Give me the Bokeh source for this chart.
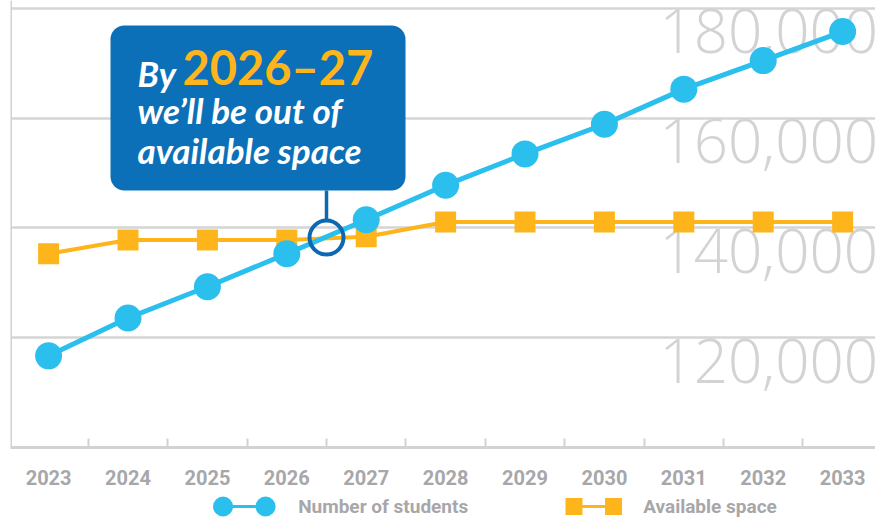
from bokeh.plotting import figure
from bokeh.models import FixedTicker, BoxAnnotation, Label, Range1d, Span
from bokeh.layouts import column
from bokeh.embed import file_html
from bokeh.resources import INLINE
from bokeh.core.properties import value

# ---------------- data ----------------
YEARS = [2023, 2024, 2025, 2026, 2027, 2028, 2029, 2030, 2031, 2032, 2033]
X_LABELS = [str(y) for y in YEARS]
STUDENTS = [116700, 123600, 129300, 135300, 141500, 147800, 153500, 158900, 165300, 170500, 175800]
SPACE = [135300, 137800, 137800, 137800, 138400, 141100, 141100, 141100, 141100, 141100, 141100]
Y_TICKS = [120000, 140000, 160000, 180000]
Y_LABELS = ["120,000", "140,000", "160,000", "180,000"]
SERIES_NAMES = ["Number of students", "Available space"]
CALLOUT_BY = "By"
CALLOUT_YEARS = "2026–27"
CALLOUT_LINE2 = "we’ll be out of"
CALLOUT_LINE3 = "available space"

# ---------------- styles ----------------
BLUE = "#2BBFEE"
ORANGE = "#FDB51B"
BOX = "#0B70B8"
RING = "#0B69B1"
GRID = "#d5d5d5"
AXIS = "#d2d2d2"
LABEL_GRAY = "#a7a7aa"
TICK_GRAY = "#d3d3d5"

# frame geometry (page pixels)
FL, FT, FW, FH = 10, 0, 865, 447
X_START = 2022.52
X_END = X_START + FW / 79.4
Y_START = 100000
Y_END = 180000 + 8 * 20000 / 110


def px_to_x(px):
    return X_START + (px - FL) / FW * (X_END - X_START)


def px_to_y(py):
    return Y_END - (py - FT) / FH * (Y_END - Y_START)


p = figure(frame_width=FW, frame_height=FH,
           x_range=Range1d(X_START, X_END), y_range=Range1d(Y_START, Y_END),
           output_backend="svg", toolbar_location=None, tools="",
           y_axis_location=None, min_border_left=FL, min_border_right=0,
           min_border_top=FT, min_border_bottom=0)
p.outline_line_color = None
p.background_fill_color = "white"
p.border_fill_color = "white"

# grid
p.xgrid.visible = False
p.ygrid.ticker = FixedTicker(ticks=Y_TICKS)
p.ygrid.grid_line_color = GRID
p.ygrid.grid_line_width = 2.5

# x axis
p.xaxis.ticker = FixedTicker(ticks=YEARS, minor_ticks=[y + 0.5 for y in YEARS[:-1]])
p.xaxis.major_label_overrides = {y: l for y, l in zip(YEARS, X_LABELS)}
p.xaxis.axis_line_color = AXIS
p.xaxis.axis_line_width = 3
p.xaxis.major_tick_line_color = None
p.xaxis.minor_tick_line_color = AXIS
p.xaxis.minor_tick_line_width = 2
p.xaxis.minor_tick_in = 9
p.xaxis.minor_tick_out = 0
p.xaxis.major_tick_in = 0
p.xaxis.major_tick_out = 0
p.xaxis.major_label_standoff = 22
p.xaxis.major_label_text_font = "Roboto"
p.xaxis.major_label_text_font_style = "bold"
p.xaxis.major_label_text_font_size = "20px"
p.xaxis.major_label_text_color = LABEL_GRAY

# left axis line
p.add_layout(Span(location=X_START, dimension="height", line_color=AXIS, line_width=3))

# big y tick labels on the right
p.text(x=[X_END] * len(Y_TICKS), y=Y_TICKS, text=Y_LABELS,
       text_align="left", text_baseline="alphabetic",
       x_offset=-(FL + FW - 659), y_offset=23,
       text_font=value("'Open Sans Light', 'Open Sans'"), text_font_size="60px",
       text_color=TICK_GRAY)

# series
p.line(YEARS, SPACE, line_color=ORANGE, line_width=4)
p.scatter(YEARS, SPACE, marker="square", size=21, fill_color=ORANGE, line_color=None)
p.line(YEARS, STUDENTS, line_color=BLUE, line_width=5)
p.scatter(YEARS, STUDENTS, marker="circle", size=27, fill_color=BLUE, line_color=None)

# ring at the middle of the interval where students overtake space
cx, cy = None, None
for i in range(len(YEARS) - 1):
    d0 = STUDENTS[i] - SPACE[i]
    d1 = STUDENTS[i + 1] - SPACE[i + 1]
    if d0 < 0 <= d1:
        cx = (YEARS[i] + YEARS[i + 1]) / 2
        cy = ((STUDENTS[i] + STUDENTS[i + 1]) / 2 + (SPACE[i] + SPACE[i + 1]) / 2) / 2
        break

units_per_px = (Y_END - Y_START) / FH
box_bottom = px_to_y(190)
p.segment(x0=[cx], y0=[box_bottom], x1=[cx], y1=[cy + 17 * units_per_px],
          line_color=RING, line_width=3.5)
p.scatter([cx], [cy], marker="circle", size=34, fill_color=None,
          line_color=RING, line_width=4)

# callout box
p.add_layout(BoxAnnotation(left=px_to_x(110), right=px_to_x(405),
                           top=px_to_y(25), bottom=box_bottom,
                           fill_color=BOX, fill_alpha=1.0, line_color=None,
                           border_radius=14))
p.add_layout(Label(x=px_to_x(137), y=px_to_y(72), text=CALLOUT_BY,
                   text_font="Lato", text_font_style="bold italic",
                   text_font_size="35px", text_color="white",
                   text_baseline="alphabetic"))
p.add_layout(Label(x=px_to_x(182), y=px_to_y(66), text=CALLOUT_YEARS,
                   text_font="Lato", text_font_style="bold",
                   text_font_size="47px", text_color=ORANGE,
                   text_baseline="alphabetic"))
p.add_layout(Label(x=px_to_x(137), y=px_to_y(109), text=CALLOUT_LINE2,
                   text_font="Lato", text_font_style="bold italic",
                   text_font_size="35px", text_color="white",
                   text_baseline="alphabetic"))
p.add_layout(Label(x=px_to_x(137), y=px_to_y(149), text=CALLOUT_LINE3,
                   text_font="Lato", text_font_style="bold italic",
                   text_font_size="35px", text_color="white",
                   text_baseline="alphabetic"))

# ---------------- legend (pixel space) ----------------
LW, LH = 875, 30
leg = figure(width=LW, height=LH, x_range=Range1d(0, LW), y_range=Range1d(0, LH),
             output_backend="svg", toolbar_location=None, tools="",
             x_axis_location=None, y_axis_location=None,
             min_border=0)
leg.outline_line_color = None
leg.grid.visible = False
LY = 11
leg.segment(x0=[215], y0=[LY], x1=[258], y1=[LY], line_color=BLUE, line_width=3)
leg.scatter([215, 258], [LY, LY], marker="circle", size=20, fill_color=BLUE, line_color=None)
leg.segment(x0=[570], y0=[LY], x1=[610], y1=[LY], line_color=ORANGE, line_width=3)
leg.scatter([570, 610], [LY, LY], marker="square", size=17, fill_color=ORANGE, line_color=None)
leg.text(x=[291, 640], y=[LY, LY], text=SERIES_NAMES, text_align="left",
         text_baseline="middle", text_font=value("Roboto"), text_font_style="bold",
         text_font_size="19px", text_color=LABEL_GRAY)

layout = column(p, leg, spacing=0)
open("out.html", "w").write(file_html(layout, INLINE))
